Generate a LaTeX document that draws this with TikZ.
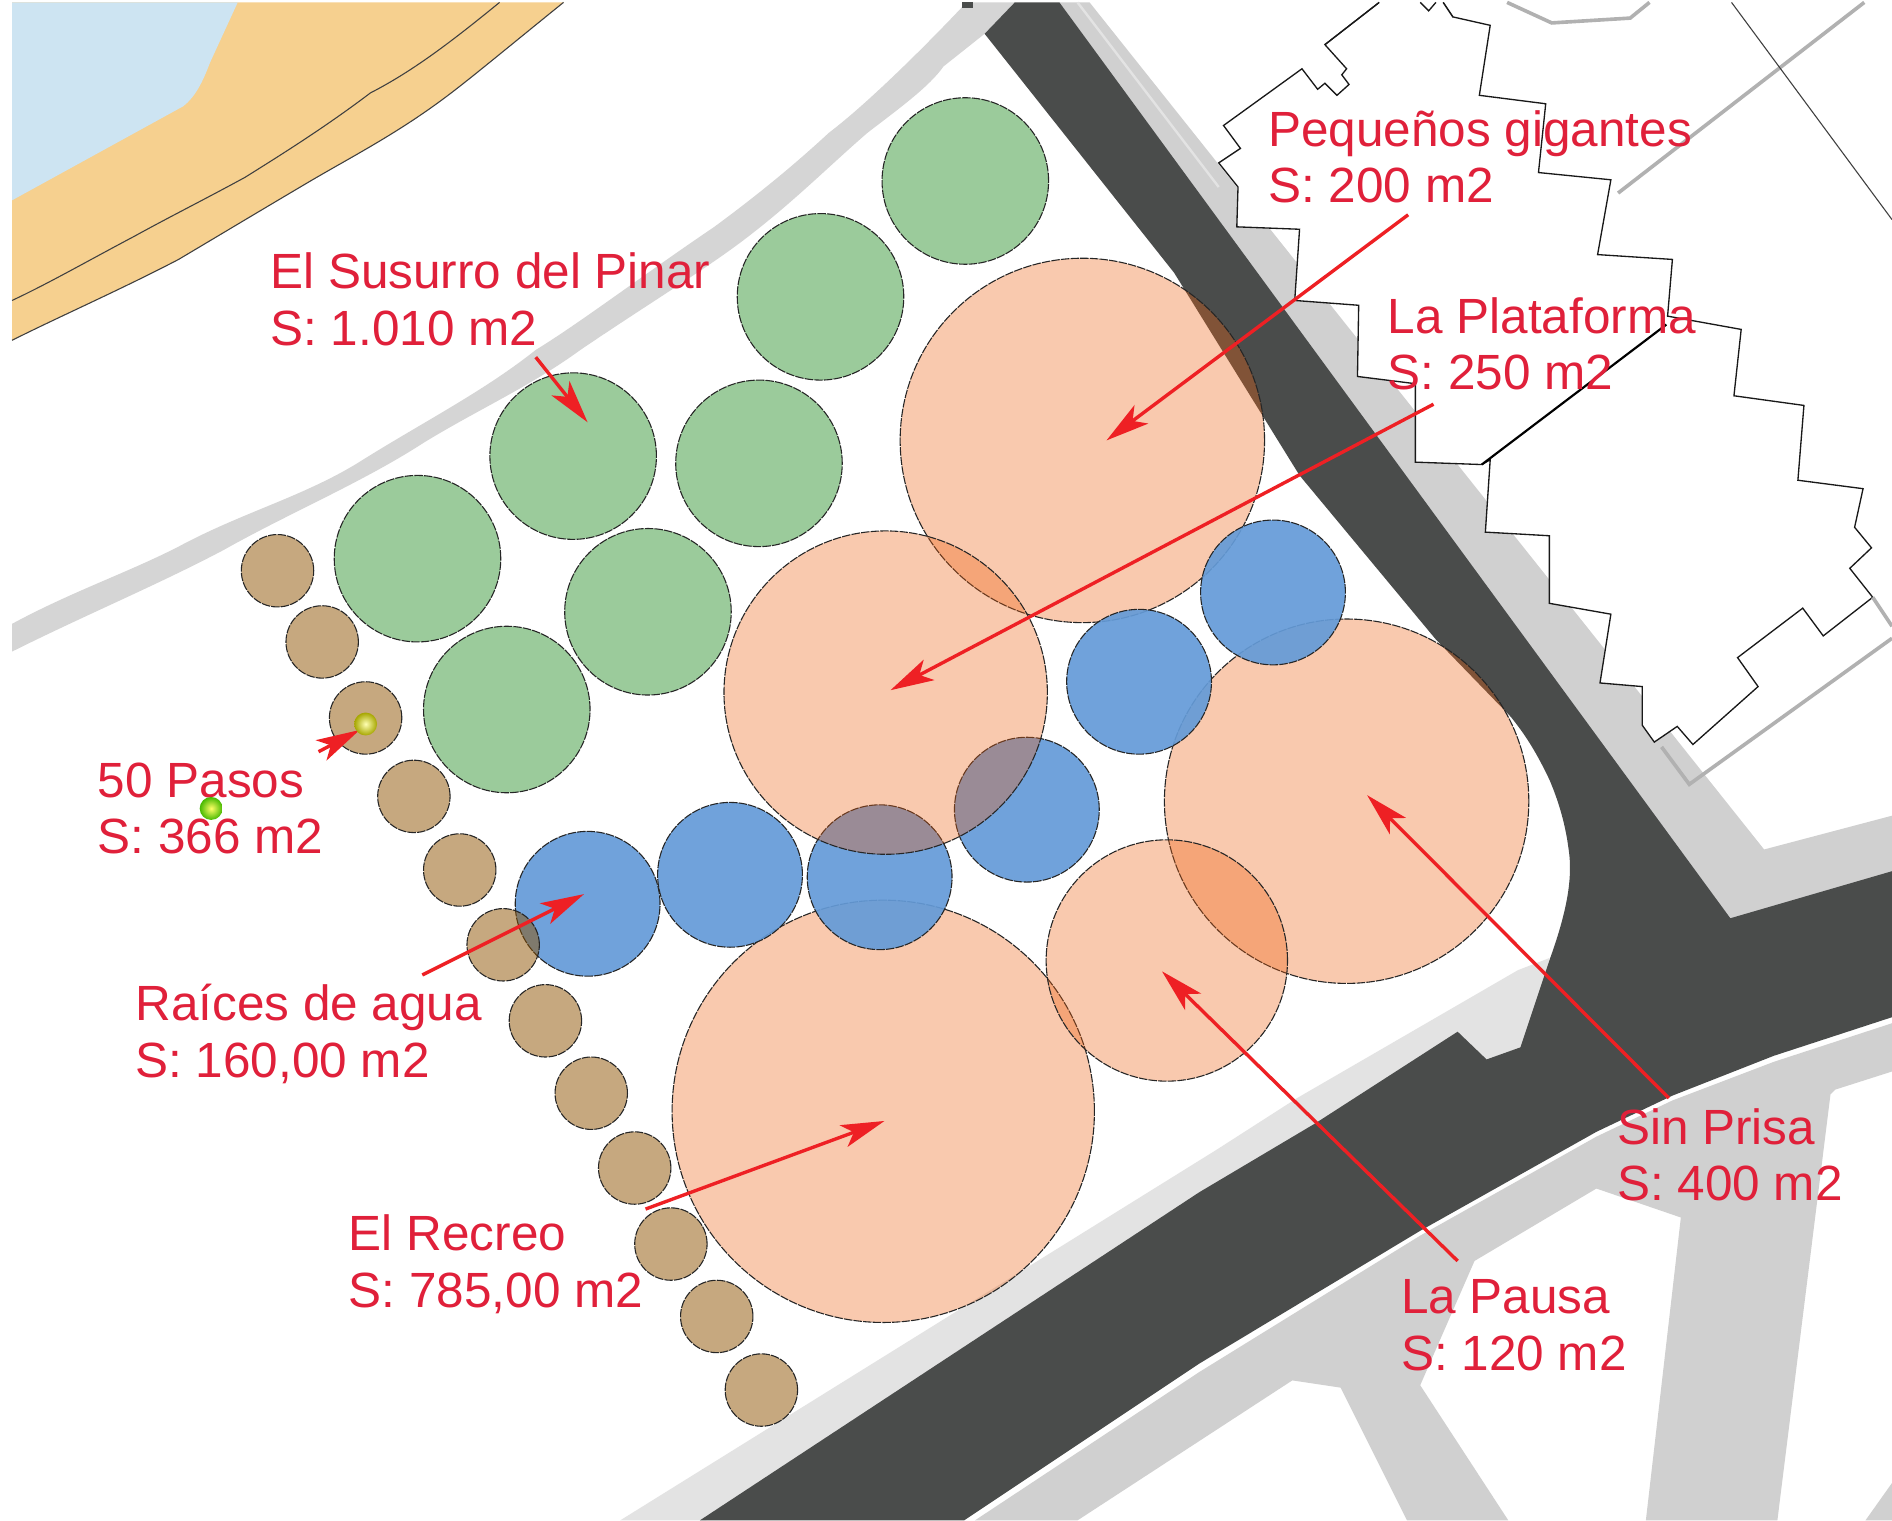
\documentclass[tikz,border=0pt]{standalone}
\usepackage{fontspec}
\setmainfont{Liberation Sans}
\usetikzlibrary{arrows.meta}
\definecolor{waterc}{HTML}{CDE4F2}
\definecolor{sandc}{HTML}{F6D08F}
\definecolor{walkc}{HTML}{D0D0D0}
\definecolor{walklight}{HTML}{E3E3E3}
\definecolor{roadc}{HTML}{4A4C4B}
\definecolor{greenc}{HTML}{9BCB9B}
\definecolor{orangec}{RGB}{238,97,18}
\definecolor{bluec}{RGB}{100,155,216}
\definecolor{tanc}{RGB}{143,83,0}
\definecolor{labelc}{HTML}{E0203A}
\definecolor{arrowc}{HTML}{EE2024}
\tikzset{
  zone/.style={circle,inner sep=0pt,outer sep=0pt,draw=black!85,line width=0.9pt,dash pattern=on 7pt off 1pt},
  greenzone/.style={zone,fill=greenc},
  orangezone/.style={zone,fill=orangec,fill opacity=0.34},
  bluezone/.style={zone,fill=bluec,fill opacity=0.92},
  tanzone/.style={zone,fill=tanc,fill opacity=0.5,minimum size=60pt},
  zonelabel/.style={anchor=west,align=left,inner sep=0pt,text=labelc,font=\fontsize{41}{47}\selectfont},
  pointer/.style={draw=arrowc,line width=2.8pt,-{Stealth[length=36pt,width=19pt,inset=9pt]}},
  building/.style={draw=black!90,line width=1.1pt,fill=white},
  thinline/.style={draw=black!75,line width=0.9pt},
  grayline/.style={draw=walkc!85!black,line width=3pt},
  spot/.style={circle,inner sep=0pt,minimum size=19pt}
}
\begin{document}
\begin{tikzpicture}[x=1pt,y=-1pt]
\useasboundingbox (0,0) rectangle (1568,1260);
\fill[white] (0,0) rectangle (1568,1260);
% water and sand
\fill[sandc] (10,2) -- (467,2) .. controls (420,40) and (390,65) .. (370,80) .. controls (330,110) and (295,128) .. (259,149) .. controls (220,172) and (180,196) .. (148,215) .. controls (100,240) and (50,262) .. (10,282) -- cycle;
\fill[waterc] (10,2) -- (197,2) -- (174,52) .. controls (168,68) and (162,80) .. (152,88) -- (10,166) -- cycle;
\draw[thinline] (467,2) .. controls (420,40) and (390,65) .. (370,80) .. controls (330,110) and (295,128) .. (259,149) .. controls (220,172) and (180,196) .. (148,215) .. controls (100,240) and (50,262) .. (10,282);
\draw[thinline] (414,2) .. controls (370,38) and (340,60) .. (307,77) .. controls (270,105) and (235,127) .. (203,147) .. controls (170,165) and (140,180) .. (111,196) .. controls (75,215) and (40,235) .. (10,249);
% upper path
\fill[walkc!90!white] (10,517) .. controls (60,490) and (105,475) .. (148,453) .. controls (200,425) and (250,412) .. (296,384) .. controls (350,350) and (400,325) .. (444,290) .. controls (480,268) and (530,230) .. (592,188) .. controls (630,160) and (660,135) .. (687,110) .. controls (720,85) and (770,35) .. (801,2) -- (841,2) -- (816,28) -- (782,55) .. controls (770,72) and (745,90) .. (719,110) .. controls (690,135) and (660,165) .. (624,193) .. controls (590,220) and (540,250) .. (481,290) .. controls (440,320) and (395,340) .. (351,367) .. controls (300,400) and (240,425) .. (185,456) .. controls (130,485) and (70,510) .. (10,540) -- cycle;
\fill[roadc] (797,2) rectangle (806,7);
% walkway by the main road
\fill[walkc] (878,2) -- (903,2) -- (1462,704) -- (1568,676) -- (1568,730) -- (1430,770) -- cycle;
\draw[draw=walklight,line width=2pt] (893,2) -- (1010,155);
% light strip above diagonal road
\fill[walklight] (514,1260) -- (1008,953) -- (1075,910) -- (1258,804) -- (1284,794) -- (1270,880) -- (1210,890) -- (585,1260) -- cycle;
% lower walkways
\fill[walkc] (808,1260) -- (994,1137) -- (1177,1024) -- (1323,942) -- (1386,912) -- (1470,880) -- (1568,848) -- (1568,888) -- (1521,903) -- (1517,907) -- (1473,1260) -- (1364,1260) -- (1393,1009) -- (1323,985) -- (1222,1045) -- (1177,1148) -- (1250,1260) -- (1166,1260) -- (1111,1150) -- (1071,1144) -- (893,1260) -- cycle;
\fill[walkc] (1546,1260) -- (1568,1229) -- (1568,1260) -- cycle;
% road
\fill[roadc] (841,2) -- (878,2) -- (1434,761) -- (1568,722) -- (1568,843) -- (1470,875) -- (1386,908) -- (1323,938) -- (1177,1020) -- (994,1130) -- (799,1260) -- (580,1260) -- (994,988) -- (1090,931) -- (1208,855) -- (1232,878) -- (1260,868) -- (1284,796) .. controls (1297,760) and (1304,730) .. (1300,704) .. controls (1297,680) and (1290,660) .. (1284,646) .. controls (1274,625) and (1265,610) .. (1252,594) -- (1190,530) -- (1077,394) -- (973,226) -- (816,28) -- cycle;
% buildings and thin lines
\draw[building] (1143,2) -- (1098,37) -- (1116,57) -- (1112,62) -- (1118,70) -- (1108,79) -- (1098,69) -- (1092,74) -- (1079,57) -- (1014,104) -- (1028,123) -- (1010,135) -- (1026,155) -- (1025,188) -- (1077,190) -- (1073,249) -- (1126,253) -- (1125,312) -- (1173,318) -- (1173,383) -- (1228,385) -- (1235,381) -- (1231,441) -- (1284,444) -- (1284,500) -- (1335,509) -- (1326,566) -- (1361,569) -- (1361,601) -- (1371,615) -- (1390,602) -- (1403,617) -- (1457,569) -- (1440,545) -- (1494,504) -- (1511,527) -- (1552,495) -- (1533,471) -- (1551,454) -- (1537,437) -- (1544,405) -- (1490,398) -- (1495,336) -- (1437,328) -- (1443,273) -- (1382,262) -- (1386,215) -- (1324,211) -- (1335,149) -- (1275,143) -- (1281,86) -- (1226,79) -- (1235,21) -- (1204,14) -- (1196,2);
\fill[white] (1143,2) -- (1196,2) -- (1204,14) -- (1150,30) -- cycle;
\draw[draw=black!90,line width=1.1pt] (1143,2) -- (1098,37);
\draw[draw=black!90,line width=1.1pt] (1196,2) -- (1204,14);
\draw[draw=black!90,line width=1.1pt] (1177,2) -- (1184,9) -- (1190,2);
\draw[draw=black,line width=1.8pt] (1228,385) -- (1381,269);
\draw[grayline] (1249,2) -- (1286,19) -- (1351,15) -- (1367,2);
\draw[grayline] (1341,160) -- (1545,2);
\draw[thinline] (1435,2) -- (1568,182);
\draw[grayline] (1552,495) -- (1568,519);
\draw[grayline] (1377,619) -- (1400,650) -- (1568,529);
% orange zones below blue
\node[orangezone,minimum size=302pt] (zonePG) at (897,365) {};
\node[orangezone,minimum size=350pt] (zoneER) at (732,921) {};
\node[orangezone,minimum size=302pt] (zoneSP) at (1116,664) {};
% blue zones
\node[bluezone,minimum size=120pt] (blueA) at (1055,491) {};
\node[bluezone,minimum size=120pt] (blueB) at (944,565) {};
\node[bluezone,minimum size=120pt] (blueC) at (851,671) {};
\node[bluezone,minimum size=120pt] (blueD) at (729,727) {};
\node[bluezone,minimum size=120pt] (blueE) at (605,725) {};
\node[bluezone,minimum size=120pt] (blueF) at (487,749) {};
% orange zones above blue
\node[orangezone,minimum size=268pt] (zoneLP) at (734,574) {};
\node[orangezone,minimum size=200pt] (zoneLA) at (967,796) {};
% green zones
\node[greenzone,minimum size=138pt] (greenA) at (800,150) {};
\node[greenzone,minimum size=138pt] (greenB) at (680,246) {};
\node[greenzone,minimum size=138pt] (greenC) at (629,384) {};
\node[greenzone,minimum size=138pt] (greenD) at (475,378) {};
\node[greenzone,minimum size=138pt] (greenE) at (346,463) {};
\node[greenzone,minimum size=138pt] (greenF) at (537,507) {};
\node[greenzone,minimum size=138pt] (greenG) at (420,588) {};
% tan zones
\node[tanzone] (tanA) at (230,473) {};
\node[tanzone] (tanB) at (267,532) {};
\node[tanzone] (tanC) at (303,595) {};
\node[tanzone] (tanD) at (343,660) {};
\node[tanzone] (tanE) at (381,721) {};
\node[tanzone] (tanF) at (417,783) {};
\node[tanzone] (tanG) at (452,846) {};
\node[tanzone] (tanH) at (490,906) {};
\node[tanzone] (tanI) at (526,968) {};
\node[tanzone] (tanJ) at (556,1031) {};
\node[tanzone] (tanK) at (594,1091) {};
\node[tanzone] (tanL) at (631,1152) {};
% labels
\node[zonelabel] (labPG) at (1051,130) {Pequeños gigantes\\S: 200 m2};
\node[zonelabel] (labSU) at (224,248) {El Susurro del Pinar\\S: 1.010 m2};
\node[zonelabel] (labLP) at (1150,285) {La Plataforma\\S: 250 m2};
\node[zonelabel] (lab50) at (81,670) {50 Pasos\\S: 366 m2};
\node[zonelabel] (labRA) at (112,857) {Raíces de agua\\S: 160,00 m2};
\node[zonelabel] (labER) at (289,1048) {El Recreo\\S: 785,00 m2};
\node[zonelabel] (labSP) at (1340,957) {Sin Prisa\\S: 400 m2};
\node[zonelabel] (labLA) at (1161,1098) {La Pausa\\S: 120 m2};
% connector ends
\coordinate (fromPG) at (1167,178);
\coordinate (toPG) at (917,365);
\coordinate (fromLP) at (1188,335);
\coordinate (toLP) at (738,572);
\coordinate (fromSU) at (444,296);
\coordinate (toSU) at (487,350);
\coordinate (from50) at (264,623);
\coordinate (to50) at (298,605);
\coordinate (fromRA) at (350,808);
\coordinate (toRA) at (484,741);
\coordinate (fromER) at (535,1002);
\coordinate (toER) at (733,929);
\coordinate (fromSP) at (1383,910);
\coordinate (toSP) at (1133,659);
\coordinate (fromLA) at (1208,1045);
\coordinate (toLA) at (963,805);
\draw[pointer] (fromPG) -- (toPG);
\draw[pointer] (fromLP) -- (toLP);
\draw[pointer] (fromSU) -- (toSU);
\draw[pointer] (fromRA) -- (toRA);
\draw[pointer] (fromER) -- (toER);
\draw[pointer] (fromSP) -- (toSP);
\draw[pointer] (fromLA) -- (toLA);
\draw[pointer] (from50) -- (to50);
% markers
\node[spot,shade,shading=radial,inner color=white!70!yellow,outer color=olive!70!yellow] (markA) at (303,600) {};
\node[spot,shade,shading=radial,inner color=yellow!60!white,outer color=green!45!olive] (markB) at (175,670) {};
\end{tikzpicture}
\end{document}
